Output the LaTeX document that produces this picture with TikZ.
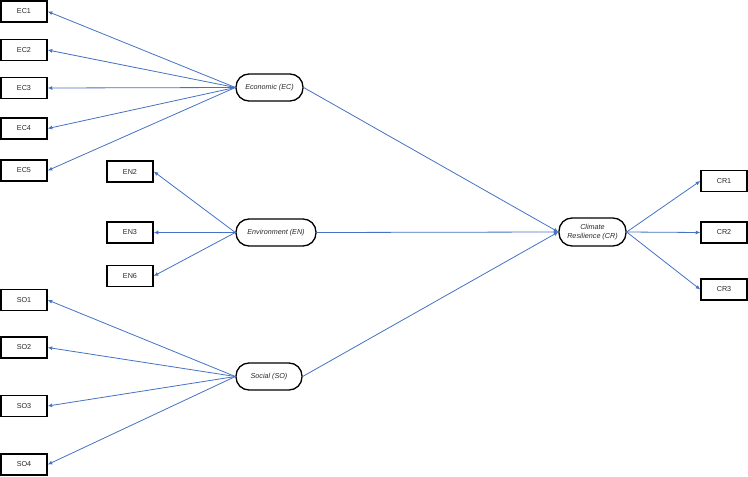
\documentclass[tikz,border=0pt]{standalone}
\usepackage{fontspec}
\setmainfont{Liberation Sans}
\usetikzlibrary{arrows.meta}
\definecolor{arrowblue}{RGB}{68,114,196}
\definecolor{txt}{RGB}{40,40,40}
\begin{document}
\begin{tikzpicture}[x=1pt,y=-1pt,
  ind/.style={draw=black, line width=1.5pt, minimum width=46pt, minimum height=21pt, inner sep=0pt, font=\fontsize{7.2}{8.5}\selectfont, text=txt},
  lat/.style={draw=black, line width=1.3pt, rounded corners=13pt, minimum height=27pt, inner sep=0pt, font=\fontsize{7.2}{8.5}\selectfont\itshape, text=txt, align=center},
  conn/.style={draw=arrowblue, line width=0.8pt, -{Latex[length=4.5pt,width=4pt]}}]
\useasboundingbox (0,0) rectangle (748,477);
% indicators
\node[ind] (ec1) at (24,11.5) {EC1};
\node[ind] (ec2) at (24,50) {EC2};
\node[ind] (ec3) at (24,88) {EC3};
\node[ind] (ec4) at (24,128.5) {EC4};
\node[ind] (ec5) at (24,170.5) {EC5};
\node[ind] (en2) at (130,171.5) {EN2};
\node[ind] (en3) at (130,232.5) {EN3};
\node[ind] (en6) at (130,276) {EN6};
\node[ind] (so1) at (24,300) {SO1};
\node[ind] (so2) at (24,347.5) {SO2};
\node[ind] (so3) at (24,406) {SO3};
\node[ind] (so4) at (24,464.5) {SO4};
\node[ind] (cr1) at (724,181) {CR1};
\node[ind] (cr2) at (724,232.5) {CR2};
\node[ind] (cr3) at (724,289.5) {CR3};
% latents
\node[lat, minimum width=67pt] (ec) at (269.5,87.5) {Economic (EC)};
\node[lat, minimum width=80pt] (en) at (276,232.5) {Environment (EN)};
\node[lat, minimum width=66pt] (so) at (269,376.5) {Social (SO)};
\node[lat, minimum width=67pt, minimum height=28pt] (cr) at (592.5,232) {Climate\\Resilience (CR)};
% connectors
\foreach \i in {ec1,ec2,ec3,ec4,ec5} \draw[conn] (ec.west) -- (\i.east);
\foreach \i in {en2,en3,en6} \draw[conn] (en.west) -- (\i.east);
\foreach \i in {so1,so2,so3,so4} \draw[conn] (so.west) -- (\i.east);
\foreach \i in {cr1,cr2,cr3} \draw[conn] (cr.east) -- (\i.west);
\draw[conn] (ec.east) -- (cr.west);
\draw[conn] (en.east) -- (cr.west);
\draw[conn] (so.east) -- (cr.west);
\end{tikzpicture}
\end{document}
